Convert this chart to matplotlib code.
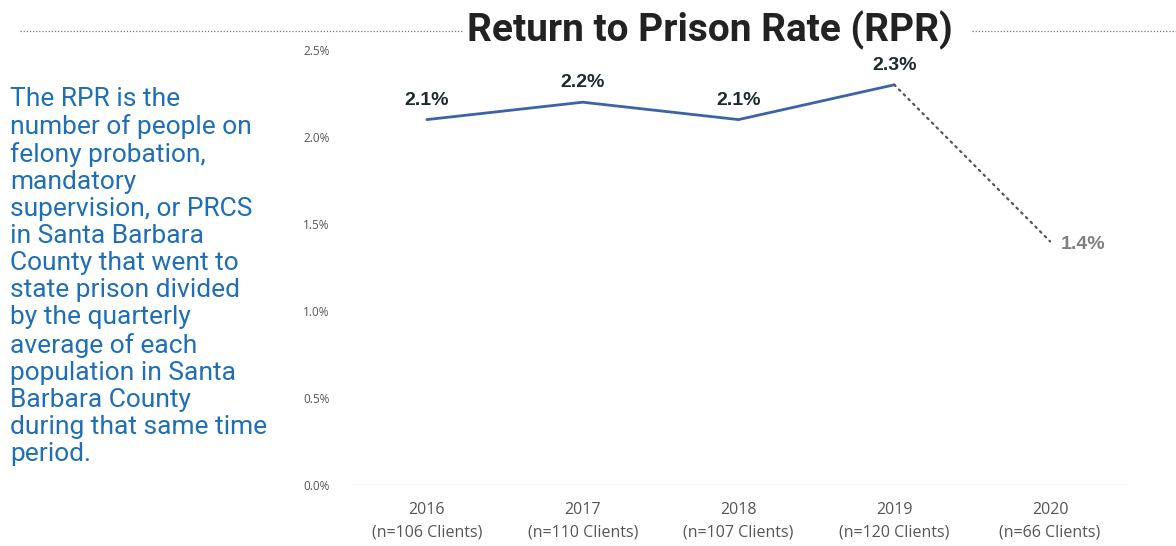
import matplotlib
matplotlib.use("Agg")
import matplotlib.pyplot as plt
from matplotlib.lines import Line2D

years = ["2016", "2017", "2018", "2019", "2020"]
clients = [106, 110, 107, 120, 66]
rpr = [2.1, 2.2, 2.1, 2.3, 1.4]
y_ticks = [0.0, 0.5, 1.0, 1.5, 2.0, 2.5]

title = "Return to Prison Rate (RPR)"
side_note = ("The RPR is the\nnumber of people on\nfelony probation,\nmandatory\n"
             "supervision, or PRCS\nin Santa Barbara\nCounty that went to\n"
             "state prison divided\nby the quarterly\naverage of each\n"
             "population in Santa\nBarbara County\nduring that same time\nperiod.")

W, H = 1176, 546
fig = plt.figure(figsize=(W / 100, H / 100), dpi=100)
ax = fig.add_axes([349 / W, 61 / H, (1128 - 349) / W, (485 - 50) / H])

x = list(range(len(years)))
# solid line for complete years, dotted for the partial last year
ax.plot(x[:4], rpr[:4], color="#3a63a8", lw=2.0, solid_capstyle="round")
ax.plot(x[3:], rpr[3:], color="#555555", lw=1.6, linestyle=(0, (0.8, 2.2)),
        dash_capstyle="round")

for i, v in enumerate(rpr[:4]):
    ax.annotate(f"{v:.1f}%", (x[i], v), xytext=(0, 14), textcoords="offset points",
                ha="center", va="center", fontsize=14, fontweight="bold",
                family="Liberation Sans", color="#1e2a2e")
ax.annotate(f"{rpr[4]:.1f}%", (x[4], rpr[4]), xytext=(8, -2), textcoords="offset points",
            ha="left", va="center", fontsize=14, fontweight="bold",
            family="Liberation Sans", color="#808080")

ax.set_xlim(-0.5, len(years) - 0.5)
ax.set_ylim(0, 2.5)
ax.set_yticks(y_ticks)
ax.set_yticklabels([f"{t:.1f}%" for t in y_ticks], fontsize=8.5,
                   family="Open Sans", color="#555555")
ax.set_xticks(x)
ax.set_xticklabels([f"{y}\n(n={n} Clients)" for y, n in zip(years, clients)],
                   fontsize=11.5, family="Open Sans",
                   color="#555555", linespacing=1.55)
ax.tick_params(axis="both", length=0)
ax.tick_params(axis="y", pad=14)
ax.tick_params(axis="x", pad=12)
for s in ax.spines.values():
    s.set_visible(False)
ax.axhline(0, color="#c8c8c8", lw=1.0, linestyle=(0, (1, 1)))

# title with dotted rules on each side
fig.text(710 / W, 1 - 30 / H, title, ha="center", va="center", fontsize=28,
         fontweight="bold", family="Roboto", color="#222222")
fig.add_artist(Line2D([20 / W, 462 / W], [1 - 31 / H] * 2, transform=fig.transFigure,
                      color="#777777", lw=0.9, linestyle=(0, (1, 1.5))))
fig.add_artist(Line2D([972 / W, 1176 / W], [1 - 31 / H] * 2, transform=fig.transFigure,
                      color="#777777", lw=0.9, linestyle=(0, (1, 1.5))))

fig.text(10 / W, 1 - 87 / H, side_note, ha="left", va="top", fontsize=19,
         family="Roboto", color="#1f6fb8", linespacing=1.16)

fig.savefig("out.png", dpi=100, facecolor="white")
